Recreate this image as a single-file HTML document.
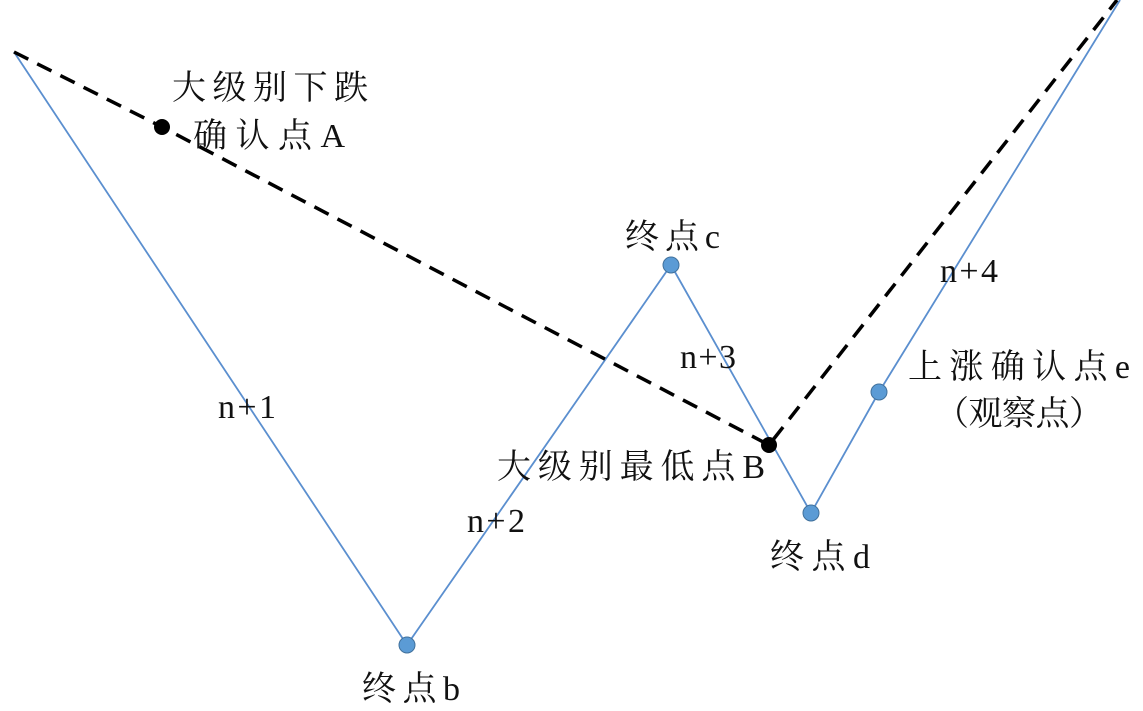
<!DOCTYPE html>
<html><head><meta charset="utf-8"><style>
html,body{margin:0;padding:0;background:#fff;}
svg{display:block;}
text{font-family:"Liberation Serif","Noto Serif CJK SC",serif;font-size:34px;fill:#111;}
</style></head><body>
<svg width="1143" height="711" viewBox="0 0 1143 711" xmlns="http://www.w3.org/2000/svg">
<polyline points="14,52 407,645 671,265 811,513 879,392 1120,0" fill="none" stroke="#5b8fcf" stroke-width="1.8"/>
<polyline points="14,52 162,127 769,445 1117,0" fill="none" stroke="#000" stroke-width="3.5" stroke-dasharray="16,10"/>
<circle cx="162" cy="127" r="8" fill="#000"/>
<circle cx="769" cy="445" r="8" fill="#000"/>
<g fill="#5b9bd5" stroke="#41719c" stroke-width="1">
<circle cx="407" cy="645" r="8"/>
<circle cx="671" cy="265" r="8"/>
<circle cx="811" cy="513" r="8"/>
<circle cx="879" cy="392" r="8"/>
</g>
<text x="172" y="99" textLength="196" lengthAdjust="spacing">大级别下跌</text>
<text x="193" y="147" textLength="152" lengthAdjust="spacing">确认点A</text>
<text x="625" y="248" textLength="95" lengthAdjust="spacing">终点c</text>
<text x="680" y="368" textLength="56" lengthAdjust="spacing">n+3</text>
<text x="218" y="418" textLength="58" lengthAdjust="spacing">n+1</text>
<text x="497" y="478" textLength="268" lengthAdjust="spacing">大级别最低点B</text>
<text x="467" y="532" textLength="58" lengthAdjust="spacing">n+2</text>
<text x="770" y="568" textLength="100" lengthAdjust="spacing">终点d</text>
<text x="362" y="700" textLength="98" lengthAdjust="spacing">终点b</text>
<text x="940" y="282" textLength="58" lengthAdjust="spacing">n+4</text>
<text x="908" y="378" textLength="222" lengthAdjust="spacing">上涨确认点e</text>
<text x="935" y="425" textLength="168" lengthAdjust="spacing">（观察点）</text>
</svg>
</body></html>
